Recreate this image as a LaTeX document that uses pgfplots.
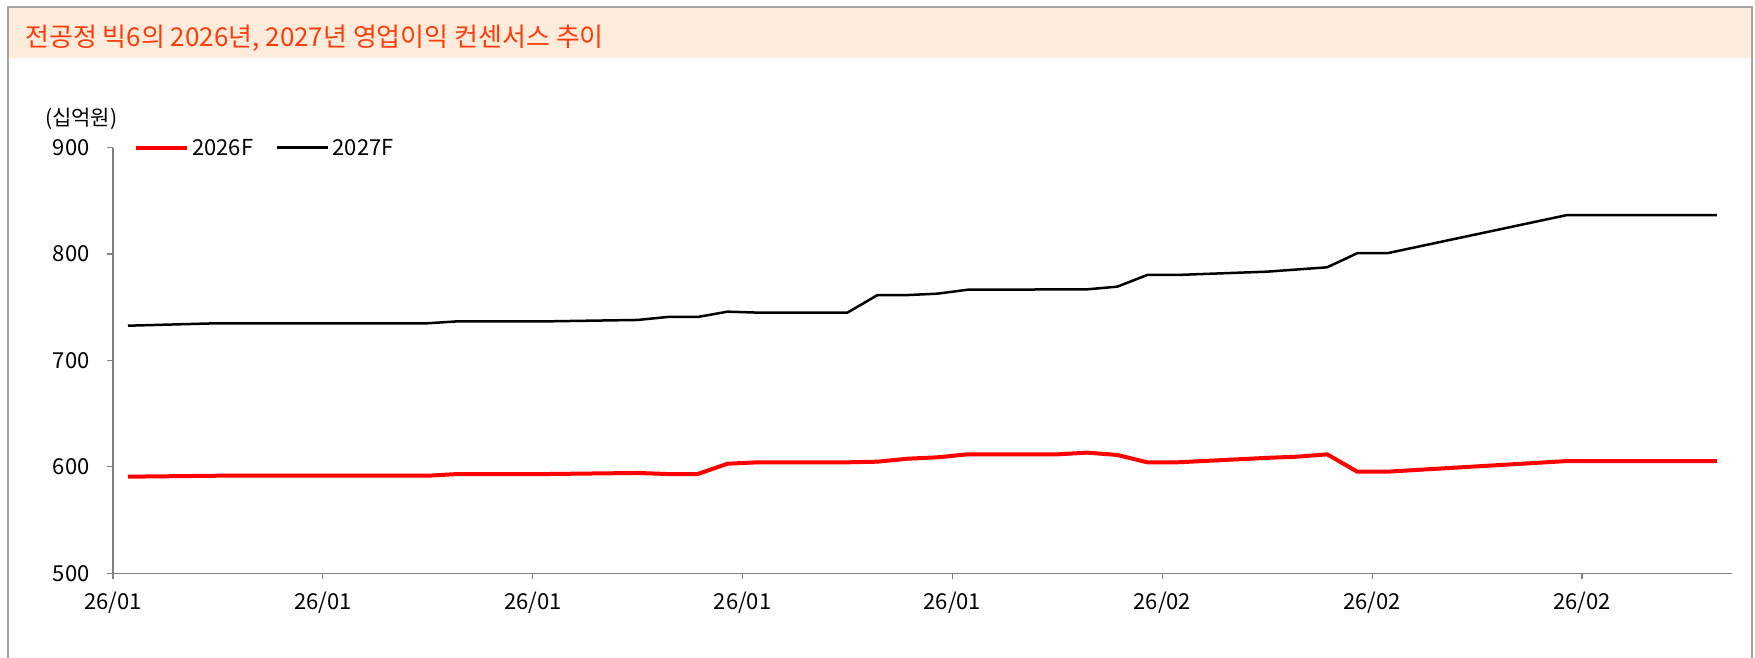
\documentclass[border=0pt]{standalone}
\usepackage{fontspec}
\setmainfont{Noto Sans CJK KR}
\usepackage{pgfplots}
\pgfplotsset{compat=1.18}
\definecolor{band}{RGB}{253,235,220}
\definecolor{titlec}{RGB}{255,60,10}
\definecolor{axgray}{RGB}{128,128,128}
\definecolor{framec}{RGB}{165,165,165}
\begin{document}
\begin{tikzpicture}[x=1pt,y=1pt]
\path[use as bounding box] (0,0) rectangle (1755,658);
\fill[band] (8,600) rectangle (1752,651);
\draw[framec, line width=1.5pt] (8,-5) -- (8,651) -- (1752,651) -- (1752,-5);
\node[anchor=west, inner sep=0pt, text=titlec, font=\fontsize{26}{30}\selectfont] at (25,620) {전공정 빅6의 2026년, 2027년 영업이익 컨센서스 추이};
\node[anchor=west, inner sep=0pt, font=\fontsize{21}{25}\selectfont] at (45,539) {(십억원)};
\begin{axis}[
  at={(113pt,84.7pt)}, anchor=south west,
  scale only axis, width=1619pt, height=425.6pt,
  xmin=0, xmax=54, ymin=500, ymax=900,
  axis lines=left,
  axis line style={-, axgray, line width=1.5pt},
  xtick={0,7,...,49},
  xticklabels={26/01,26/01,26/01,26/01,26/01,26/02,26/02,26/02},
  ytick={500,600,...,900},
  tick style={axgray, line width=1.2pt},
  tick align=outside, major tick length=6pt,
  ticklabel style={font=\fontsize{22}{26}\selectfont},
  xticklabel style={yshift=-9pt},
  yticklabel style={xshift=-14pt},
  /pgf/number format/assume math mode=true,
  clip=false,
  legend columns=2,
  legend image code/.code={\draw[#1] (0pt,0pt) -- (51pt,0pt);},
  legend style={draw=none, fill=none, at={(axis description cs:0,1)}, anchor=west,
    xshift=21pt, inner sep=0pt, font=\fontsize{22}{26}\selectfont,
    nodes={inner xsep=3pt, inner ysep=0pt},
    /tikz/every even column/.append style={column sep=20pt}},
]
\addplot[red, line width=4pt, line join=round] coordinates {
(0.5,590.8) (3.5,591.7) (10.5,591.7) (11.5,593.3) (14.5,593.3) (17.5,594.3) (18.5,593.3) (19.5,593.3) (20.5,603.0) (21.5,604.3) (24.5,604.3) (25.5,604.9) (26.5,607.7) (27.5,609.0) (28.5,611.8) (31.5,611.8) (32.5,613.4) (33.5,611.2) (34.5,604.3) (35.5,604.3) (38.5,608.5) (39.5,609.6) (40.5,611.8) (41.5,595.5) (42.5,595.5) (48.5,605.5) (53.5,605.5)
};
\addlegendentry{2026F}
\addplot[black, line width=2.5pt, line join=round] coordinates {
(0.5,732.7) (3.5,735.0) (10.5,735.0) (11.5,736.8) (14.5,736.8) (17.5,738.1) (18.5,740.9) (19.5,740.9) (20.5,745.9) (21.5,745.0) (24.5,745.0) (25.5,761.5) (26.5,761.5) (27.5,762.8) (28.5,766.5) (32.5,766.9) (33.5,769.4) (34.5,780.4) (35.5,780.4) (38.5,783.5) (40.5,787.6) (41.5,800.8) (42.5,800.8) (48.5,836.7) (53.5,836.7)
};
\addlegendentry{2027F}
\end{axis}
\end{tikzpicture}
\end{document}
